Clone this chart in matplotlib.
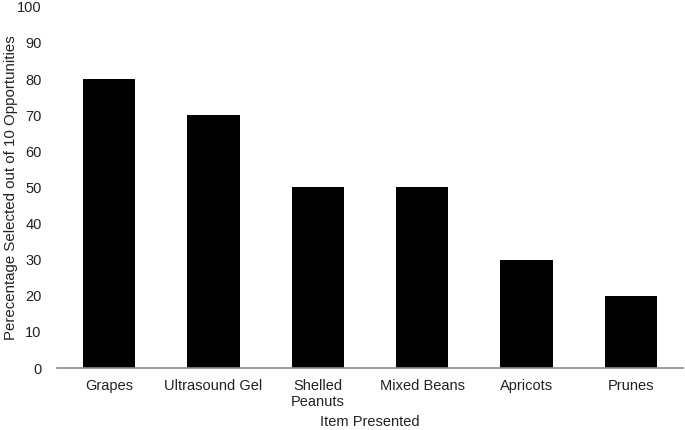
import numpy as np
import matplotlib.pyplot as plt

plt.rcParams['font.family'] = ['Liberation Sans', 'DejaVu Sans']

items = ["Grapes", "Ultrasound Gel", "Shelled\nPeanuts", "Mixed Beans", "Apricots", "Prunes"]
percent = [80, 70, 50, 50, 30, 20]

fig = plt.figure(figsize=(6.85, 4.3), dpi=100)
ax = fig.add_axes([0.0832, 0.144, 0.914, 0.840])

x = np.arange(len(items))
ax.bar(x, percent, width=0.5, color="black")

ax.set_xlim(-0.5, len(items) - 0.5)
ax.set_ylim(0, 100)
ax.set_yticks(range(0, 101, 10))
ax.set_xticks(x)
ax.set_xticklabels(items, fontsize=10.5, color="#222222", linespacing=1.2)
ax.tick_params(axis="y", length=0, pad=11, labelsize=10.5, labelcolor="#222222")
ax.tick_params(axis="x", length=0, pad=8)

for s in ["top", "right", "left"]:
    ax.spines[s].set_visible(False)
ax.spines["bottom"].set_color("#8c8c8c")
ax.spines["bottom"].set_linewidth(1.2)

ax.set_xlabel("Item Presented", fontsize=10.5, color="#222222")
ax.xaxis.set_label_coords(0.5, -0.13)
ax.set_ylabel("Perecentage Selected out of 10 Opportunities", fontsize=10.8, color="#222222")
ax.yaxis.set_label_coords(-0.062, 0.5)

fig.savefig("out.png", dpi=100)
